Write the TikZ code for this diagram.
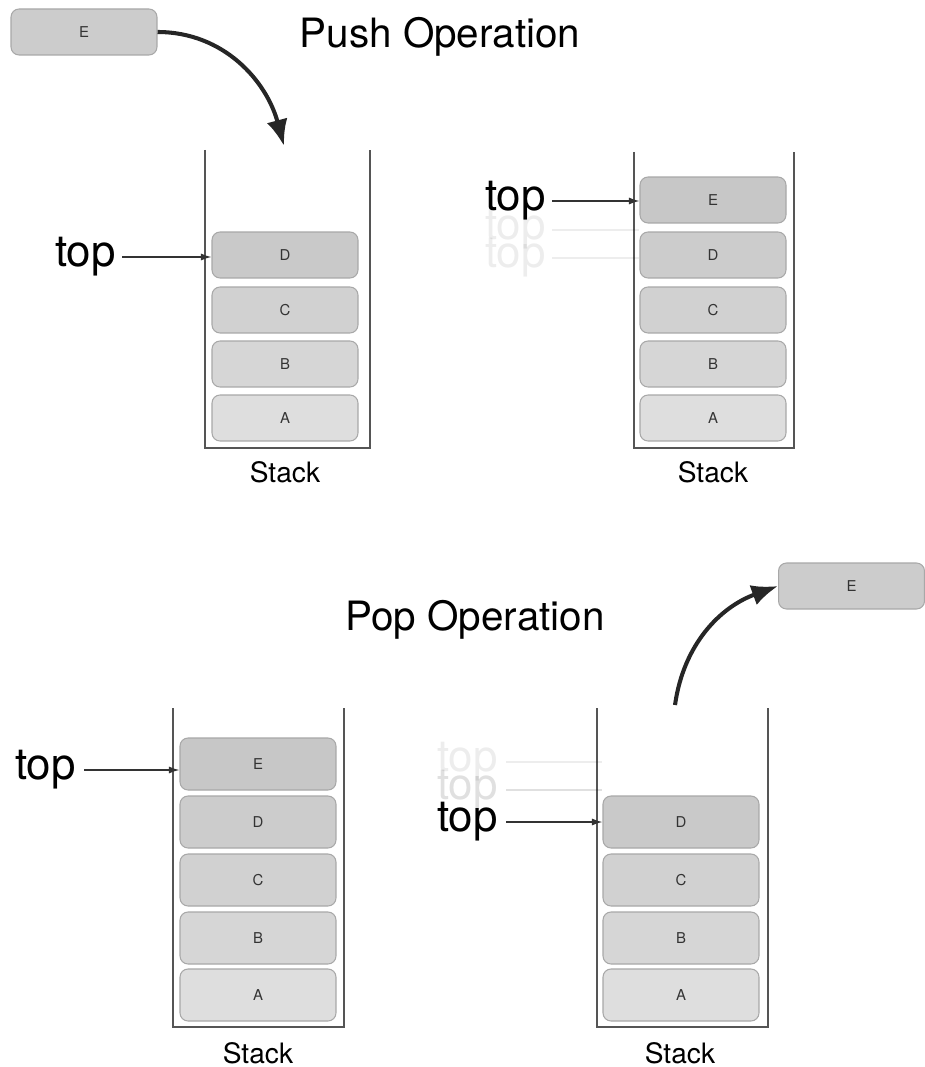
\documentclass[tikz,border=0pt]{standalone}
\usepackage{fontspec}
\setmainfont{TeX Gyre Heros}
\usetikzlibrary{arrows.meta}
\definecolor{wallgray}{HTML}{555555}
\definecolor{cellline}{HTML}{A8A8A8}
\tikzset{
  cell/.style={draw=cellline,rounded corners=0.16cm,line width=0.6pt,
    minimum width=2.92cm,minimum height=0.92cm,font=\fontsize{8.5}{9}\selectfont,text=black!80},
  bigcell/.style={cell,minimum width=3.12cm,minimum height=1.04cm},
  wall/.style={draw=wallgray,line width=1.1pt},
  toplabel/.style={inner sep=0pt,font=\fontsize{25}{28}\selectfont},
  stacklabel/.style={inner sep=0pt,font=\fontsize{16}{18}\selectfont},
  title/.style={inner sep=0pt,font=\fontsize{23}{26}\selectfont},
  toparrow/.style={-{Latex[length=6pt,width=4pt]},line width=0.8pt,black!80},
  ghost/.style={opacity=0.07},
  curvearrow/.style={-{Latex[length=15pt,width=12pt]},line width=2.3pt,black!85}
}
\begin{document}
\begin{tikzpicture}[x=0.02cm,y=-0.02cm]
  \useasboundingbox (0,0) rectangle (925,1067);

  % push operation
  \node[title] (push) at (440,37) {Push Operation};
  \node[cell,fill=black!20] (E0) at (84,32) {E};
  \coordinate (in1) at (284,146);
  \draw[curvearrow] (E0.east) to[out=0,in=105] (in1);

  % stack before push
  \draw[wall] (205,150) -- (205,448) -- (370,448) -- (370,150);
  \node[cell,fill=black!21] (D1) at (285,255) {D};
  \node[cell,fill=black!18] (C1) at (285,310) {C};
  \node[cell,fill=black!16] (B1) at (285,364) {B};
  \node[cell,fill=black!13] (A1) at (285,418) {A};
  \node[stacklabel] (s1) at (285,472) {Stack};
  \node[toplabel,anchor=east] (t1) at (116,257) {top};
  \draw[toparrow] (t1.east) ++(6,0) -- (D1.west |- t1.east);

  % stack after push
  \draw[wall] (634,152) -- (634,448) -- (794,448) -- (794,152);
  \node[cell,fill=black!22] (E2) at (713,200) {E};
  \node[cell,fill=black!20] (D2) at (713,255) {D};
  \node[cell,fill=black!18] (C2) at (713,310) {C};
  \node[cell,fill=black!16] (B2) at (713,364) {B};
  \node[cell,fill=black!13] (A2) at (713,418) {A};
  \node[stacklabel] (s2) at (713,472) {Stack};
  \node[toplabel,anchor=east,ghost] (t2b) at (546,258) {top};
  \node[toplabel,anchor=east,ghost] (t2a) at (546,230) {top};
  \node[toplabel,anchor=east] (t2) at (546,201) {top};
  \draw[ghost,line width=0.8pt] (t2a.east) ++(6,0) -- (E2.west |- t2a.east);
  \draw[ghost,line width=0.8pt] (t2b.east) ++(6,0) -- (E2.west |- t2b.east);
  \draw[toparrow] (t2.east) ++(6,0) -- (E2.west |- t2.east);

  % pop operation
  \node[title] (pop) at (475,620) {Pop Operation};
  \node[cell,fill=black!20,anchor=west] (E5) at (778,586) {E};
  \coordinate (out4) at (675,705);
  \draw[curvearrow] (out4) to[out=82,in=200] (E5.west);

  % stack before pop
  \draw[wall] (173,708) -- (173,1027) -- (344,1027) -- (344,708);
  \node[bigcell,fill=black!22] (E3) at (258,764) {E};
  \node[bigcell,fill=black!20] (D3) at (258,822) {D};
  \node[bigcell,fill=black!18] (C3) at (258,880) {C};
  \node[bigcell,fill=black!16] (B3) at (258,938) {B};
  \node[bigcell,fill=black!13] (A3) at (258,995) {A};
  \node[stacklabel] (s3) at (258,1053) {Stack};
  \node[toplabel,anchor=east] (t3) at (76,770) {top};
  \draw[toparrow] (t3.east) ++(8,0) -- (E3.west |- t3.east);

  % stack after pop
  \draw[wall] (597,708) -- (597,1027) -- (768,1027) -- (768,708);
  \node[bigcell,fill=black!21] (D4) at (681,822) {D};
  \node[bigcell,fill=black!18] (C4) at (681,880) {C};
  \node[bigcell,fill=black!16] (B4) at (681,938) {B};
  \node[bigcell,fill=black!13] (A4) at (681,995) {A};
  \node[stacklabel] (s4) at (680,1053) {Stack};
  \node[toplabel,anchor=east,ghost] (t4b) at (498,762) {top};
  \node[toplabel,anchor=east,opacity=0.12] (t4a) at (498,790) {top};
  \node[toplabel,anchor=east] (t4) at (498,822) {top};
  \draw[ghost,line width=0.8pt] (t4b.east) ++(8,0) -- (D4.west |- t4b.east);
  \draw[opacity=0.12,line width=0.8pt] (t4a.east) ++(8,0) -- (D4.west |- t4a.east);
  \draw[toparrow] (t4.east) ++(8,0) -- (D4.west |- t4.east);
\end{tikzpicture}
\end{document}
